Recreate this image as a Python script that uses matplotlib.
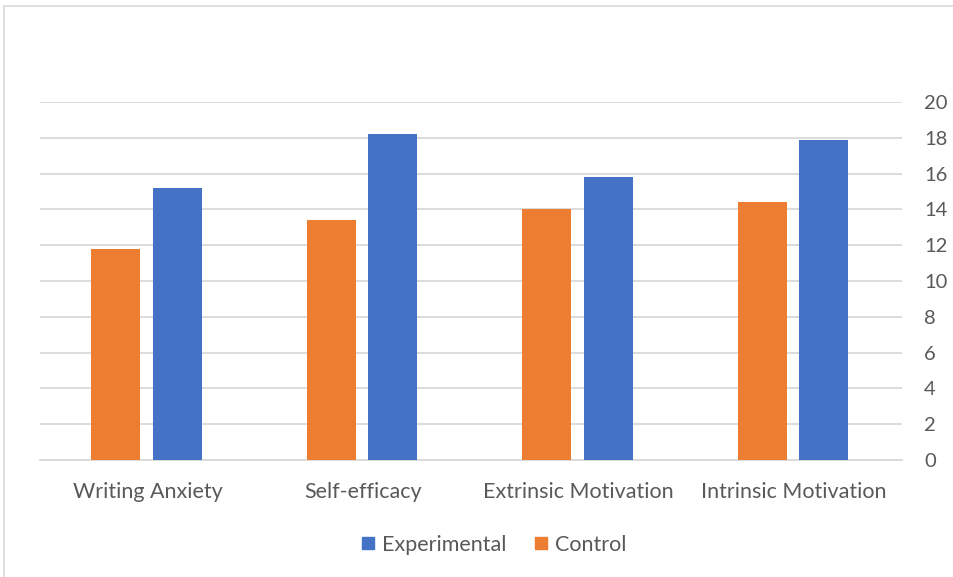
import matplotlib
matplotlib.use("Agg")
from matplotlib import pyplot as plt, patches, lines
import numpy as np

categories = ['Writing Anxiety', 'Self-efficacy', 'Extrinsic Motivation', 'Intrinsic Motivation']
control = [11.8, 13.4, 14.0, 14.4]
experimental = [15.2, 18.2, 15.8, 17.9]
yticks = list(range(0, 21, 2))

blue = '#4472C4'
orange = '#ED7D31'
grid = '#D9D9D9'
txt = '#595959'

plt.rcParams['font.family'] = ['Lato', 'DejaVu Sans']

W, H = 954, 577
fig = plt.figure(figsize=(W/100, H/100), dpi=100)

# outer chart frame (only top and left show)
fig.patches.append(patches.Rectangle((4/W, -0.05), 1.1, 1.05 - 6/H, transform=fig.transFigure,
                                     fill=False, edgecolor=grid, lw=1.2))

ax = fig.add_axes([40/W, 1-460/H, (902-40)/W, (460-102)/H])
x = np.arange(len(categories))
bw = 0.227
off = 0.142
ax.bar(x - off - 0.006, control, bw, color=orange, zorder=3)
ax.bar(x + off - 0.006, experimental, bw, color=blue, zorder=3)

ax.set_xlim(-0.5, 3.5)
ax.set_ylim(0, 20)
ax.set_yticks(yticks)
ax.yaxis.tick_right()
ax.yaxis.grid(True, color=grid, lw=1.3, zorder=0)
ax.set_axisbelow(True)
ax.set_xticks(x)
ax.set_xticklabels(categories)
ax.tick_params(axis='y', length=0, labelsize=14.5, labelcolor=txt, pad=16)
ax.tick_params(axis='x', length=0, labelsize=15.5, labelcolor=txt, pad=16)
for lab in ax.get_yticklabels():
    lab.set_horizontalalignment('left')
for s in ['top', 'right', 'left']:
    ax.spines[s].set_visible(False)
ax.spines['bottom'].set_color(grid)
ax.spines['bottom'].set_linewidth(1.3)

handles = [lines.Line2D([], [], marker='s', color=blue, ls='', markersize=9),
           lines.Line2D([], [], marker='s', color=orange, ls='', markersize=9)]
fig.legend(handles, ['Experimental', 'Control'], loc='center', bbox_to_anchor=(494/W, 1-545/H),
           ncol=2, frameon=False, fontsize=15.5, labelcolor=txt, handlelength=0.6,
           handletextpad=0.35, columnspacing=1.3)

fig.savefig('out.png', dpi=100, facecolor='white')
